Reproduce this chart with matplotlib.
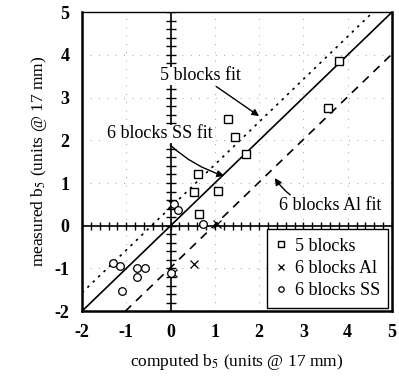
import numpy as np
import matplotlib
matplotlib.use('Agg')
import matplotlib.pyplot as plt

# data
sq_x = [3.80, 3.55, 1.30, 1.45, 1.70, 0.61, 0.52, 1.07, 0.64]
sq_y = [3.85, 2.75, 2.50, 2.08, 1.68, 1.22, 0.80, 0.82, 0.28]

al_x = [0.05, 0.52, 1.05, 0.04]
al_y = [-1.10, -0.89, 0.05, 0.50]

ss_x = [0.07, 0.16, 0.73, -1.30, -1.14, -0.75, -0.57, -0.75, -1.09, 0.00]
ss_y = [0.52, 0.37, 0.05, -0.87, -0.94, -0.98, -1.00, -1.19, -1.52, -1.10]

# fits: slope, intercept
fit_5 = (1.0, 0.43)
fit_ss = (1.0, 0.0)
fit_al = (1.0, -0.98)

xlim = (-2, 5)
ylim = (-2, 5)

plt.rcParams['font.family'] = ['Liberation Serif', 'DejaVu Serif']
plt.rcParams['axes.unicode_minus'] = False
plt.rcParams['mathtext.fontset'] = 'stix'
fig = plt.figure(figsize=(3.99, 3.79), dpi=100)
ax = fig.add_axes([0.2055, 0.179, 0.777, 0.789])

xx = np.linspace(-2, 5, 200)
for (m, b), ls in [(fit_5, (0, (1.5, 3))), (fit_ss, '-'), (fit_al, (0, (5, 4)))]:
    ax.plot(xx, m * xx + b, color='k', lw=1.2, ls=ls)

# sparse dotted grid
for v in range(-1, 5):
    ax.axhline(v, color='k', lw=0.6, ls=(0, (1, 9)), alpha=0.5)
    ax.axvline(v, color='k', lw=0.6, ls=(0, (1, 9)), alpha=0.5)

# crossing axes at zero with small ticks
ax.axhline(0, color='k', lw=1.2)
ax.axvline(0, color='k', lw=1.2)
tk = np.arange(-2, 5.01, 0.2)
ax.plot(tk, np.zeros_like(tk), ls='none', marker='|', ms=6, mew=1.0, color='k')
ax.plot(np.zeros_like(tk), tk, ls='none', marker='_', ms=7, mew=1.0, color='k')

ax.plot(sq_x, sq_y, ls='none', marker='s', ms=6, mfc='white', mec='k', mew=1.0, label='5 blocks')
ax.plot(al_x, al_y, ls='none', marker='x', ms=6, mec='k', mew=0.9, label='6 blocks Al')
ax.plot(ss_x, ss_y, ls='none', marker='o', ms=5.5, mfc='white', mec='k', mew=0.9, label='6 blocks SS')

ax.set_xlim(*xlim)
ax.set_ylim(*ylim)
ax.set_xticks(range(-2, 6))
ax.set_yticks(range(-2, 6))
ax.tick_params(length=0, labelsize=13, pad=9)
for lab in ax.get_xticklabels() + ax.get_yticklabels():
    lab.set_fontweight('bold')
for s in ax.spines.values():
    s.set_linewidth(1.8)
ax.spines['top'].set_linewidth(1.0)

ax.set_xlabel('computed b$_5$ (units @ 17 mm)', fontsize=12.5, labelpad=8)
ax.set_ylabel('measured b$_5$ (units @ 17 mm)', fontsize=12.5, labelpad=4)

arr = dict(arrowstyle='-|>', color='k', lw=1.0, mutation_scale=10)
ax.annotate('5 blocks fit', xy=(2.05, 2.53), xytext=(0.68, 3.51), ha='center', va='center',
            fontsize=13, arrowprops=arr, bbox=dict(fc='white', ec='none', pad=0.5))
ax.annotate('6 blocks SS fit', xy=(1.27, 1.15), xytext=(-0.25, 2.15), ha='center', va='center',
            fontsize=13, arrowprops=dict(arr, connectionstyle='arc3,rad=0.15'),
            bbox=dict(fc='white', ec='none', pad=0.5))
ax.annotate('6 blocks Al fit', xy=(2.32, 1.17), xytext=(3.6, 0.47), ha='center', va='center',
            fontsize=13, arrowprops=dict(arr, connectionstyle='arc3,rad=-0.3'),
            bbox=dict(fc='white', ec='none', pad=0.5))

leg = ax.legend(loc='lower right', fontsize=13, frameon=True, fancybox=False,
                handlelength=0.6, handletextpad=0.5, borderpad=0.45, labelspacing=0.3,
                borderaxespad=0.2, markerscale=0.7)
leg.get_frame().set_edgecolor('k')
leg.get_frame().set_linewidth(1.0)
leg.get_frame().set_alpha(1)

fig.savefig('out.png', dpi=100)
